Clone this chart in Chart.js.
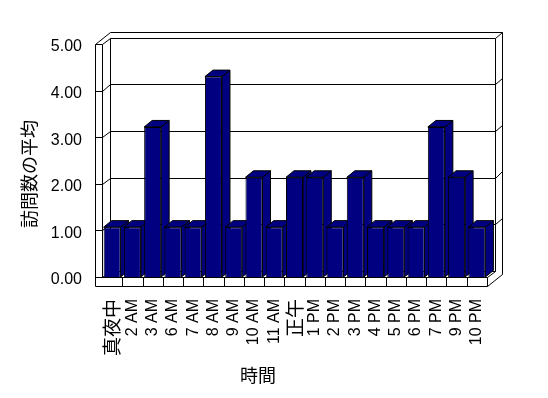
<!DOCTYPE html>
<html>
<head>
<meta charset="utf-8">
<script src="https://cdn.jsdelivr.net/npm/chart.js@4/dist/chart.umd.min.js"></script>
<style>
  html, body { margin: 0; padding: 0; background: #ffffff; }
  canvas { display: block; }
</style>
</head>
<body>
<canvas id="c" width="548" height="398"></canvas>
<script>
// ---- data ----
const categories = ['真夜中', '2 AM', '3 AM', '6 AM', '7 AM', '8 AM', '9 AM', '10 AM', '11 AM', '正午',
                    '1 PM', '2 PM', '3 PM', '4 PM', '5 PM', '6 PM', '7 PM', '9 PM', '10 PM'];
const visits = [1.07, 1.07, 3.22, 1.07, 1.07, 4.3, 1.07, 2.14, 1.07, 2.14,
                2.14, 1.07, 2.14, 1.07, 1.07, 1.07, 3.22, 2.14, 1.07];
const yTickLabels = ['0.00', '1.00', '2.00', '3.00', '4.00', '5.00'];
const xTitle = '時間';
const yTitle = '訪問数の平均';

const NAVY = '#000080';
const D = { dx: 7.5, dy: -6.2 };   // wall depth step
const BD = { dx: 8, dy: -6.5 };    // bar depth

function poly(ctx, pts, fill) {
  ctx.beginPath();
  ctx.moveTo(pts[0][0], pts[0][1]);
  for (let i = 1; i < pts.length; i++) ctx.lineTo(pts[i][0], pts[i][1]);
  if (fill) { ctx.closePath(); ctx.fillStyle = fill; ctx.fill(); }
  ctx.stroke();
}
function seg(ctx, pts) { poly(ctx, pts.map(p => [Math.round(p[0]) + 0.5, Math.round(p[1]) + 0.5])); }

const frame3d = {
  id: 'frame3d',
  beforeDatasetsDraw(chart) {
    const { ctx, chartArea } = chart;
    const xs = chart.scales.x, ys = chart.scales.y;
    const L = chartArea.left, R = chartArea.right, T = chartArea.top, B = chartArea.bottom;
    const OL = L - 7, FB = B + 9;
    const dx = D.dx, dy = D.dy;
    ctx.save();
    ctx.lineWidth = 1;
    ctx.strokeStyle = '#000000';
    // back wall
    seg(ctx, [[L + dx, T + dy], [R + dx, T + dy], [R + dx, B + dy], [L + dx, B + dy], [L + dx, T + dy]]);
    // gridlines through left wall, back wall, right edge
    for (let v = 1; v <= 4; v++) {
      const yy = ys.getPixelForValue(v);
      seg(ctx, [[OL, yy], [L, yy], [L + dx, yy + dy], [R + dx, yy + dy], [R + 2 * dx, yy + 2 * dy]]);
    }
    seg(ctx, [[OL, B], [L, B], [L + dx, B + dy]]);
    // top edges
    seg(ctx, [[L, T], [L + dx, T + dy]]);
    seg(ctx, [[OL, T], [OL + 2 * dx, T + 2 * dy], [R + 2 * dx, T + 2 * dy], [R + 2 * dx, FB + 2 * dy], [R, FB]]);
    seg(ctx, [[R + dx, T + dy], [R + 2 * dx, T + 2 * dy]]);
    seg(ctx, [[R, B], [R + dx, B + dy]]);
    // left wall front
    seg(ctx, [[L, B], [L, T], [OL, T], [OL, FB], [R, FB], [R, B], [L, B]]);
    // floor front ticks
    for (let i = 1; i < categories.length; i++) {
      const bx = (xs.getPixelForTick(i - 1) + xs.getPixelForTick(i)) / 2;
      seg(ctx, [[bx, B], [bx, FB]]);
    }
    // bar sides and tops (fronts are drawn by Chart.js)
    const meta = chart.getDatasetMeta(0);
    meta.data.forEach(bar => {
      const p = bar.getProps(['x', 'y', 'width', 'base'], true);
      const xl = p.x - p.width / 2, xr = p.x + p.width / 2;
      poly(ctx, [[xr, p.y], [xr + BD.dx, p.y + BD.dy], [xr + BD.dx, p.base + BD.dy], [xr, p.base]], NAVY);
      poly(ctx, [[xl, p.y], [xl + BD.dx, p.y + BD.dy], [xr + BD.dx, p.y + BD.dy], [xr, p.y]], NAVY);
    });
    ctx.restore();
  },
  afterDraw(chart) {
    const { ctx } = chart;
    ctx.save();
    ctx.fillStyle = '#000000';
    ctx.font = '18px "Noto Sans CJK JP", sans-serif';
    ctx.textAlign = 'center';
    ctx.textBaseline = 'middle';
    ctx.fillText(xTitle, 258, 375);
    ctx.translate(29, 174);
    ctx.rotate(-Math.PI / 2);
    ctx.fillText(yTitle, 0, 0);
    ctx.restore();
  }
};

const isCJK = s => /[^\x00-\x7F]/.test(s);

new Chart(document.getElementById('c'), {
  type: 'bar',
  data: {
    labels: categories,
    datasets: [{
      data: visits,
      backgroundColor: NAVY,
      borderColor: '#000000',
      borderWidth: 1,
      barPercentage: 0.84,
      categoryPercentage: 1.0
    }]
  },
  options: {
    responsive: false,
    devicePixelRatio: 1,
    animation: false,
    layout: { padding: { top: 44, right: 61, left: 0, bottom: 0 } },
    plugins: { legend: { display: false }, tooltip: { enabled: false } },
    scales: {
      x: {
        grid: { display: false, drawTicks: false },
        border: { display: false },
        afterFit(scale) { scale.height = 121; },
        ticks: {
          autoSkip: false,
          maxRotation: 90,
          minRotation: 90,
          padding: 22,
          color: '#000000',
          font: (c) => isCJK(categories[c.index] || '')
            ? { family: '"Noto Sans CJK JP"', size: 19 }
            : { family: '"Liberation Sans"', size: 16 }
        }
      },
      y: {
        min: 0,
        max: 5,
        grid: { display: false, drawTicks: false },
        border: { display: false },
        afterFit(scale) { scale.width = 102; },
        ticks: {
          stepSize: 1,
          padding: 20,
          labelOffset: 3,
          color: '#000000',
          font: { family: '"Liberation Sans"', size: 16 },
          callback: (v, i) => yTickLabels[i]
        }
      }
    }
  },
  plugins: [frame3d]
});
</script>
</body>
</html>
